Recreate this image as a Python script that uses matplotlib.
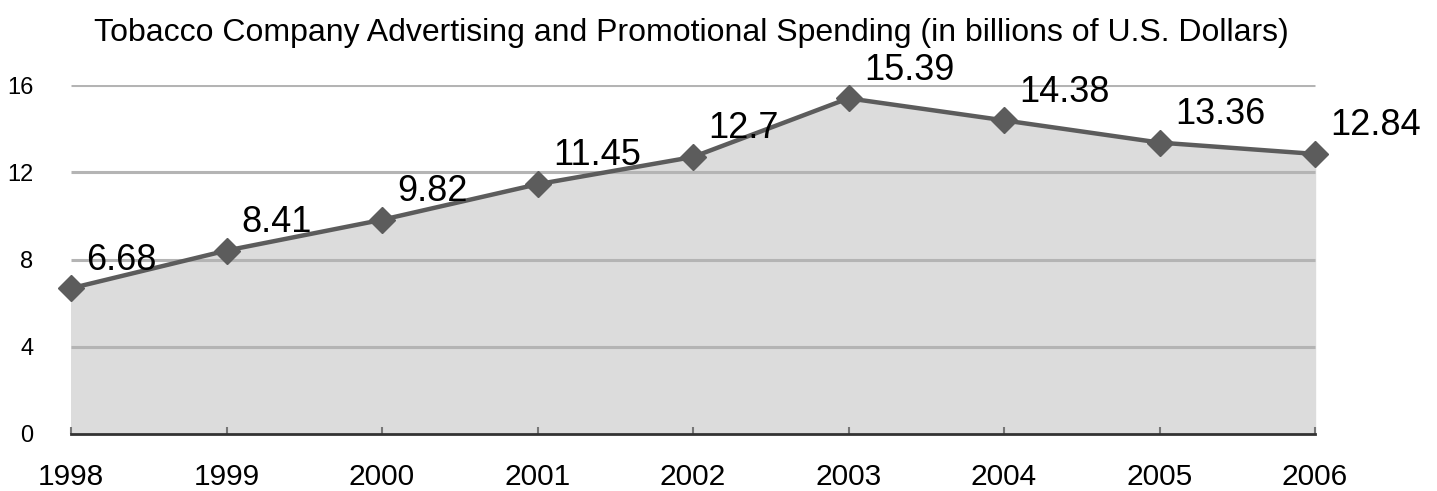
import matplotlib.pyplot as plt

plt.rcParams["font.family"] = ["Liberation Sans", "DejaVu Sans"]

years = [1998, 1999, 2000, 2001, 2002, 2003, 2004, 2005, 2006]
spending = [6.68, 8.41, 9.82, 11.45, 12.7, 15.39, 14.38, 13.36, 12.84]
labels = ["6.68", "8.41", "9.82", "11.45", "12.7", "15.39", "14.38", "13.36", "12.84"]
y_ticks = [0, 4, 8, 12, 16]

LINE = "#5c5c5c"
FILL = "#dcdcdc"
GRID = "#b4b4b4"

fig = plt.figure(figsize=(14.37, 4.91), dpi=100)
ax = fig.add_axes([71 / 1437, 57 / 491, 1 - 71 / 1437, (434 - 85) / 491])

ax.fill_between(years, spending, 0, color=FILL, zorder=1)
ax.hlines(y_ticks[1:], years[0], years[-1], color=GRID, lw=2.2, zorder=2)
ax.plot(years, spending, color=LINE, lw=3.2, marker="D", markersize=13,
        zorder=3, clip_on=False)

for x, y, t in zip(years, spending, labels):
    ax.annotate(t, (x, y), xytext=(11, 13.5), textcoords="offset points",
                ha="left", va="baseline", fontsize=26, zorder=4)

ax.set_xlim(1998, 2006 + 122 / 155.5)
ax.set_ylim(0, 16)
ax.set_xticks(years)
ax.set_xticklabels([str(y) for y in years], fontsize=21.5)
ax.set_yticks(y_ticks)
ax.set_yticklabels([str(y) for y in y_ticks], fontsize=17)
ax.tick_params(axis="y", length=0, pad=27)
ax.tick_params(axis="x", direction="in", length=5, width=1.5, color="#777777", pad=21)

for side in ["top", "right", "left"]:
    ax.spines[side].set_visible(False)
ax.spines["bottom"].set_bounds(1998, 2006)
ax.spines["bottom"].set_color("#333333")
ax.spines["bottom"].set_linewidth(2)
ax.set_facecolor("none")

fig.text(691 / 1437, 1 - 41 / 491, "Tobacco Company Advertising and Promotional Spending (in billions of U.S. Dollars)",
         ha="center", va="baseline", fontsize=23)

fig.savefig("out.png", dpi=100)
